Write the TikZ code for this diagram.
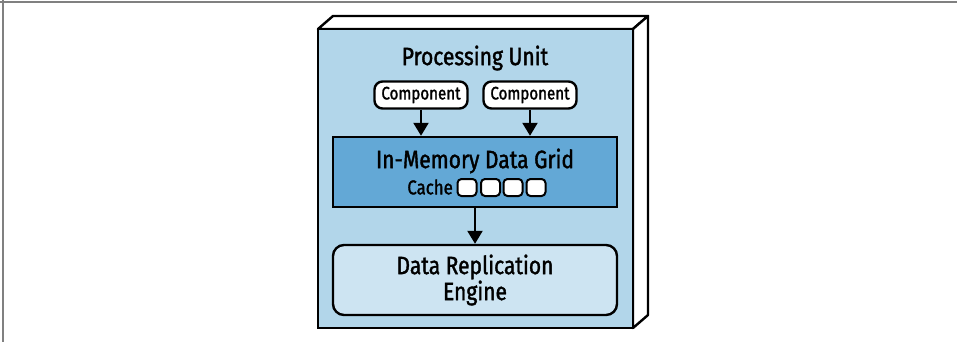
\documentclass[tikz,border=0pt]{standalone}
\usepackage{fontspec}
\setmainfont{Fira Sans}[FakeStretch=0.84,UprightFeatures={FakeBold=1.5}]
\usetikzlibrary{arrows.meta, positioning}
\definecolor{unitBlue}{RGB}{178,214,234}
\definecolor{gridBlue}{RGB}{99,168,214}
\definecolor{engineBlue}{RGB}{205,228,242}

\begin{document}
\begin{tikzpicture}[x=1pt,y=-1pt,
    box/.style={draw,line width=2.4pt,inner sep=0pt},
    compbox/.style={box,fill=white,rounded corners=8pt,minimum width=93pt,
      minimum height=27pt,font=\fontsize{18}{20}\selectfont},
    cachebox/.style={draw,line width=2pt,fill=white,rounded corners=4pt,
      minimum width=19pt,minimum height=17pt,inner sep=0pt},
    arr/.style={line width=2.2pt,-{Triangle[width=15pt,length=13pt]}}]
  \useasboundingbox (0,0) rectangle (957,342);
  \draw[gray,line width=1.5pt] (0,2) -- (957,2);
  \draw[gray,line width=1.5pt] (3,0) -- (3,342);

  % processing unit block
  \draw[line width=2.4pt,fill=white,line join=round]
    (318,29) -- (333,16) -- (648,16) -- (633,29) -- cycle;
  \draw[line width=2.4pt,fill=white,line join=round]
    (633,29) -- (648,16) -- (648,315) -- (633,328) -- cycle;
  \draw[line width=2.4pt,fill=unitBlue] (318,29) rectangle (633,328);
  \node[font=\fontsize{25}{27}\selectfont] (title) at (475,58)
    {Processing Unit};

  \node[compbox] (compA) at (421,95) {Component};
  \node[compbox] (compB) at (530,95) {Component};

  \node[box,fill=gridBlue,minimum width=284pt,minimum height=70pt]
    (grid) at (475,172) {};
  \node[font=\fontsize{25}{27}\selectfont] (gridlabel) at (475,161)
    {In-Memory Data Grid};
  \node[font=\fontsize{20}{22}\selectfont,anchor=east,inner sep=0pt]
    (cache) at (453,187) {Cache};
  \foreach \i/\cx in {1/467,2/490.5,3/513,4/536}
    \node[cachebox] (slot\i) at (\cx,187.5) {};

  \node[box,fill=engineBlue,rounded corners=11pt,minimum width=284pt,
    minimum height=70pt,align=center,font=\fontsize{25}{26}\selectfont]
    (engine) at (475,280) {Data Replication\\Engine};

  \draw[arr] (compA) -- (compA |- grid.north);
  \draw[arr] (compB) -- (compB |- grid.north);
  \draw[arr] (grid) -- (engine);
\end{tikzpicture}
\end{document}
